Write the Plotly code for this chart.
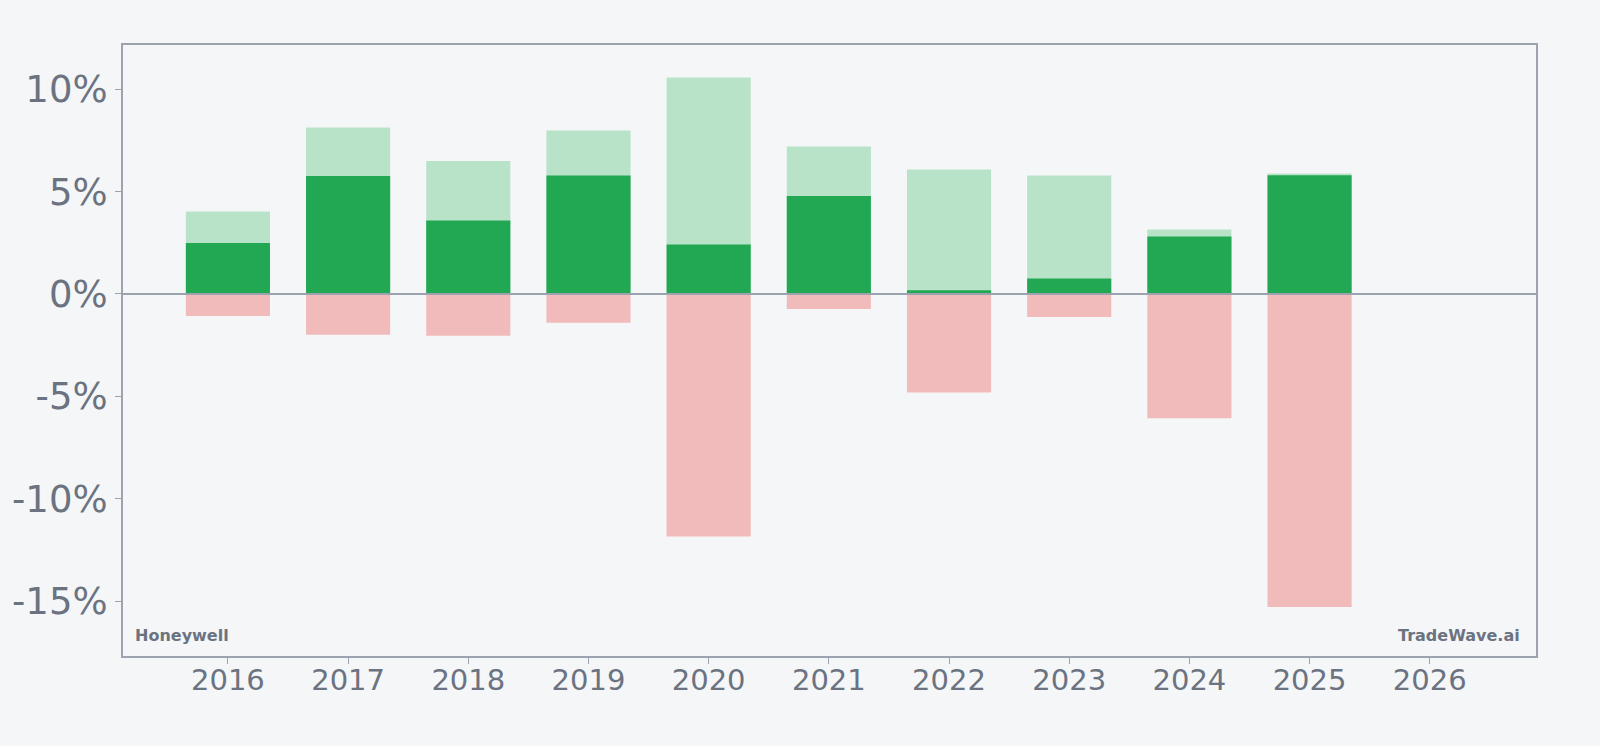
import plotly.graph_objects as go

years = [2016, 2017, 2018, 2019, 2020, 2021, 2022, 2023, 2024, 2025]
max_gain = [4.03, 8.13, 6.49, 7.98, 10.57, 7.20, 6.08, 5.79, 3.15, 5.89]
year_return = [2.49, 5.76, 3.59, 5.79, 2.42, 4.78, 0.18, 0.76, 2.81, 5.80]
max_drawdown = [-1.07, -1.99, -2.04, -1.41, -11.84, -0.73, -4.81, -1.12, -6.07, -15.29]
y_ticks = [-15, -10, -5, 0, 5, 10]
y_tick_labels = ["-15%", "-10%", "-5%", "0%", "5%", "10%"]
x_ticks = list(range(2016, 2027))

bg = "#f4f6f8"
axis_col = "#9ca3af"
text_col = "#6b7280"
font_fam = "DejaVu Sans"

fig = go.Figure()
fig.add_bar(x=years, y=max_gain, width=0.7, marker=dict(color="#b9e3c8", line=dict(width=0)), name="max")
fig.add_bar(x=years, y=year_return, width=0.7, marker=dict(color="#22a852", line=dict(width=0)), name="ret")
fig.add_bar(x=years, y=max_drawdown, width=0.7, marker=dict(color="#f2bbbb", line=dict(width=0)), name="dd")

fig.add_shape(type="line", xref="paper", yref="y", x0=0, x1=1, y0=0, y1=0,
              line=dict(color=axis_col, width=2), layer="above")

fig.update_layout(
    barmode="overlay",
    width=1600, height=746,
    margin=dict(l=120, r=64, t=45, b=90),
    paper_bgcolor=bg, plot_bgcolor=bg,
    showlegend=False,
    font=dict(family=font_fam, color=text_col),
    annotations=[
        dict(text="<b>Honeywell</b>", xref="paper", yref="paper", x=0.007, y=0.015,
             xanchor="left", yanchor="bottom", showarrow=False,
             font=dict(size=16, color=text_col, family=font_fam)),
        dict(text="<b>TradeWave.ai</b>", xref="paper", yref="paper", x=0.99, y=0.015,
             xanchor="right", yanchor="bottom", showarrow=False,
             font=dict(size=16, color=text_col, family=font_fam)),
    ],
)
fig.update_xaxes(range=[2015.127, 2026.884], tickvals=x_ticks, ticktext=[str(t) for t in x_ticks],
                 showgrid=False, zeroline=False, showline=True, mirror=True,
                 linecolor=axis_col, linewidth=2, ticks="outside", ticklen=6,
                 tickcolor=axis_col, tickwidth=1, ticklabelstandoff=-9,
                 tickfont=dict(size=29, color=text_col, family=font_fam))
fig.update_yaxes(range=[-17.68, 12.16], tickvals=y_ticks, ticktext=y_tick_labels,
                 showgrid=False, zeroline=False, showline=True, mirror=True,
                 linecolor=axis_col, linewidth=2, ticks="outside", ticklen=6,
                 tickcolor=axis_col, tickwidth=1,
                 tickfont=dict(size=37, color=text_col, family=font_fam))

fig.write_html("out.html")
